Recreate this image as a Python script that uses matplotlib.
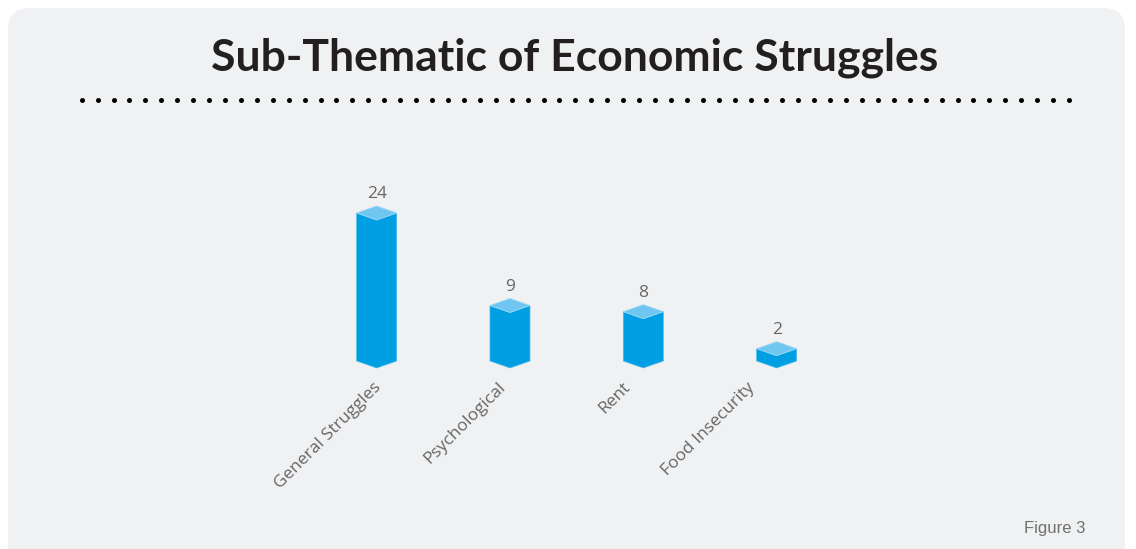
import numpy as np
import matplotlib
matplotlib.use('Agg')
import matplotlib.pyplot as plt
from matplotlib.patches import FancyBboxPatch, Polygon

# data
categories = ['General Struggles', 'Psychological', 'Rent', 'Food Insecurity']
counts = [24, 9, 8, 2]

TITLE = 'Sub-Thematic of Economic Struggles'
FOOTER = 'Figure 3'

BG = '#f0f1f3'
FRONT = '#009fe3'
TOP = '#6fc6f0'
EDGE = '#4db8e8'
GREY = '#666666'

W, H = 1136, 549
fig = plt.figure(figsize=(W / 100, H / 100), dpi=100)
fig.patch.set_facecolor('white')

# background panel in pixel coordinates
bg = fig.add_axes([0, 0, 1, 1])
bg.set_xlim(0, W)
bg.set_ylim(H, 0)
bg.axis('off')
bg.add_patch(FancyBboxPatch((8 + 22, 8 + 22), W - 11 - 8 - 44, H - 8 - 44 + 30,
                            boxstyle='round,pad=22', lw=0, facecolor=BG, zorder=0))

# dotted rule under the title
dots_x = np.linspace(81.7, 1069, 63)
bg.scatter(dots_x, np.full_like(dots_x, 100), s=13, color='black', lw=0, zorder=2)

fig.text(0.506, 0.895, TITLE, ha='center', va='center', fontsize=32,
         fontweight='bold', family='Lato', color='#231f20')
fig.text(0.955, 0.038, FOOTER, ha='right', va='center', fontsize=12,
         family='Liberation Sans', color='#707070')

# chart area
ax = fig.add_axes([310 / W, (H - 361) / H, 533.3 / W, 185 / H])
ax.set_xlim(-0.5, len(categories) - 0.5)
ax.set_ylim(0, 30)
ax.axis('off')

hw = 0.15   # half width of a bar
dz = 1.13   # vertical offset of the isometric top/bottom
label_step = 0.935  # category labels sit a little tighter than the bars

for i, (cat, v) in enumerate(zip(categories, counts)):
    # front (two side faces) with pointed bottom
    body = [(i - hw, 0), (i, -dz), (i + hw, 0), (i + hw, v), (i, v - dz), (i - hw, v)]
    ax.add_patch(Polygon(body, closed=True, facecolor=FRONT, edgecolor=EDGE,
                         lw=0.5, clip_on=False, zorder=3))
    top = [(i - hw, v), (i, v + dz), (i + hw, v), (i, v - dz)]
    ax.add_patch(Polygon(top, closed=True, facecolor=TOP, edgecolor='#9ad8f5',
                         lw=0.6, clip_on=False, zorder=4))
    ax.text(i, v + dz + 0.6, str(v), ha='center', va='bottom', fontsize=12.5,
            family='Open Sans', color=GREY)
    ax.text(i * label_step - 0.03, -3.0, cat, ha='right', va='top', rotation=45,
            rotation_mode='anchor', fontsize=12.5, family='Open Sans', color=GREY)

fig.savefig('out.png', dpi=100, facecolor='white')
